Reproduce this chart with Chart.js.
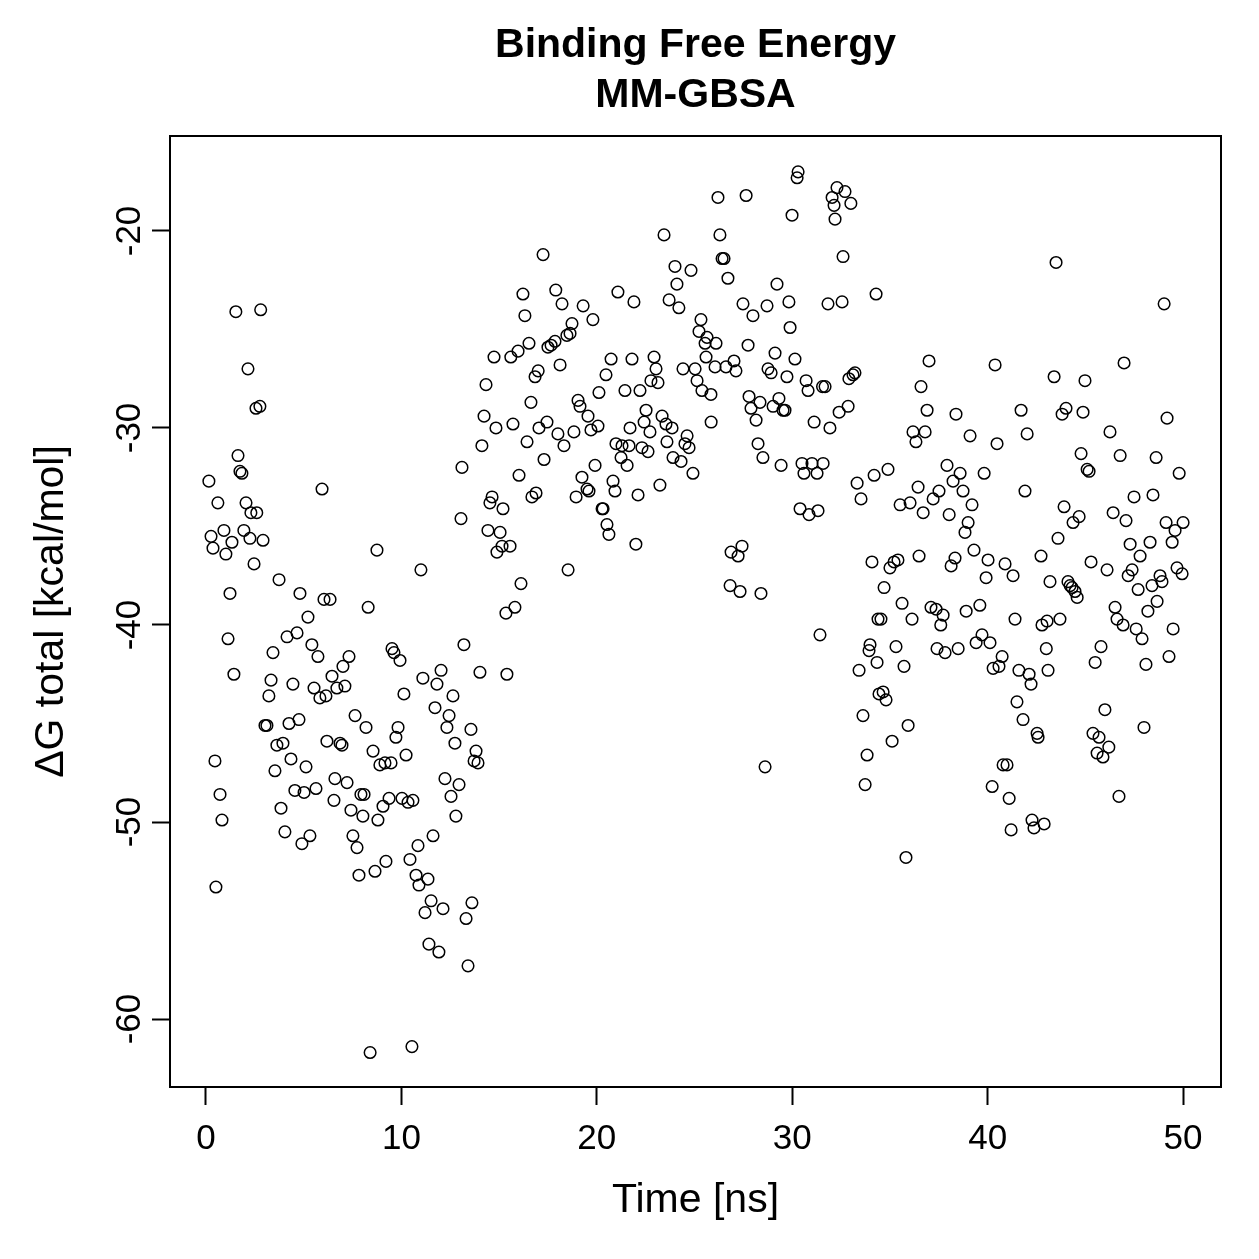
<!DOCTYPE html>
<html>
<head>
<meta charset="utf-8">
<script src="https://cdn.jsdelivr.net/npm/chart.js@4.4.1/dist/chart.umd.min.js"></script>
<style>
  html, body { margin: 0; padding: 0; background: #ffffff; }
  #wrap { width: 1259px; height: 1259px; }
</style>
</head>
<body>
<div id="wrap"><canvas id="chartEnergy" width="1259" height="1259"></canvas></div>
<script>
/* values */
const chartTitle = ['Binding Free Energy', 'MM-GBSA'];
const xTitle = 'Time [ns]';
const yTitle = '\u0394G total [kcal/mol]';
const xTicks = [0, 10, 20, 30, 40, 50];
const yTicks = [-60, -50, -40, -30, -20];

const timeNs = [
  0.15, 0.26, 0.36, 0.46, 0.51, 0.61, 0.72, 0.82, 0.92, 1.02, 1.13, 1.23, 1.33, 1.43, 1.53, 1.64, 1.74, 1.84, 1.94, 2.05,
  2.15, 2.25, 2.30, 2.46, 2.56, 2.60, 2.76, 2.80, 2.92, 3.02, 3.12, 3.22, 3.33, 3.43, 3.53, 3.63, 3.74, 3.84, 3.94, 4.04,
  4.15, 4.25, 4.35, 4.45, 4.55, 4.66, 4.76, 4.81, 4.91, 5.02, 5.12, 5.22, 5.32, 5.42, 5.53, 5.63, 5.73, 5.83, 5.94, 6.04,
  6.14, 6.19, 6.35, 6.45, 6.55, 6.60, 6.70, 6.86, 6.96, 7.01, 7.11, 7.22, 7.32, 7.42, 7.52, 7.63, 7.73, 7.83, 7.93, 8.03,
  8.09, 8.19, 8.30, 8.40, 8.55, 8.65, 8.75, 8.80, 8.90, 9.06, 9.16, 9.21, 9.37, 9.47, 9.52, 9.62, 9.72, 9.83, 9.93, 10.03,
  10.13, 10.24, 10.34, 10.44, 10.54, 10.59, 10.75, 10.85, 10.90, 11.00, 11.10, 11.21, 11.36, 11.41, 11.52, 11.62, 11.72, 11.82, 11.92, 12.03,
  12.13, 12.23, 12.33, 12.44, 12.54, 12.64, 12.74, 12.79, 12.95, 13.05, 13.10, 13.20, 13.31, 13.41, 13.56, 13.61, 13.72, 13.82, 13.92, 14.02,
  14.12, 14.23, 14.33, 14.43, 14.53, 14.64, 14.74, 14.84, 14.89, 15.05, 15.15, 15.20, 15.35, 15.40, 15.56, 15.60, 15.71, 15.81, 15.97, 16.02,
  16.12, 16.22, 16.32, 16.43, 16.53, 16.63, 16.68, 16.84, 16.89, 17.00, 17.04, 17.25, 17.30, 17.45, 17.50, 17.66, 17.86, 17.90, 18.01, 18.12,
  18.22, 18.32, 18.47, 18.53, 18.63, 18.73, 18.83, 18.94, 19.04, 19.14, 19.24, 19.30, 19.50, 19.55, 19.60, 19.70, 19.80, 19.91, 20.06, 20.11,
  20.27, 20.32, 20.47, 20.52, 20.62, 20.73, 20.83, 20.93, 20.98, 21.08, 21.24, 21.29, 21.44, 21.55, 21.65, 21.70, 21.80, 21.90, 22.00, 22.11,
  22.21, 22.31, 22.42, 22.52, 22.62, 22.72, 22.77, 22.93, 23.03, 23.13, 23.23, 23.34, 23.44, 23.54, 23.59, 23.70, 23.85, 23.90, 24.00, 24.10,
  24.20, 24.31, 24.41, 24.51, 24.62, 24.72, 24.82, 24.92, 25.03, 25.13, 25.23, 25.33, 25.38, 25.54, 25.59, 25.64, 25.84, 25.85, 26.05, 26.10,
  26.20, 26.30, 26.41, 26.51, 26.61, 26.71, 26.82, 26.87, 27.02, 27.12, 27.23, 27.33, 27.43, 27.48, 27.64, 27.74, 27.79, 27.89, 27.99, 28.15,
  28.25, 28.35, 28.40, 28.50, 28.61, 28.71, 28.76, 28.92, 29.02, 29.12, 29.22, 29.32, 29.43, 29.53, 29.63, 29.73, 29.83, 29.89, 29.99, 30.14,
  30.25, 30.30, 30.40, 30.50, 30.60, 30.71, 30.81, 30.86, 31.01, 31.12, 31.27, 31.32, 31.42, 31.55, 31.58, 31.68, 31.83, 31.93, 32.04, 32.14,
  32.19, 32.29, 32.40, 32.55, 32.60, 32.70, 32.86, 32.90, 33.00, 33.11, 33.21, 33.32, 33.42, 33.52, 33.62, 33.73, 33.83, 33.93, 33.98, 34.08,
  34.19, 34.29, 34.34, 34.39, 34.44, 34.54, 34.65, 34.70, 34.80, 34.90, 35.00, 35.11, 35.21, 35.31, 35.41, 35.52, 35.62, 35.72, 35.82, 35.93,
  36.03, 36.13, 36.18, 36.33, 36.44, 36.49, 36.59, 36.70, 36.80, 36.90, 37.00, 37.10, 37.21, 37.36, 37.41, 37.51, 37.60, 37.72, 37.82, 37.92,
  38.03, 38.13, 38.23, 38.33, 38.38, 38.49, 38.59, 38.74, 38.84, 38.90, 39.00, 39.10, 39.20, 39.30, 39.41, 39.60, 39.71, 39.82, 39.92, 40.02,
  40.12, 40.23, 40.28, 40.38, 40.48, 40.58, 40.74, 40.79, 40.89, 40.99, 41.10, 41.20, 41.30, 41.40, 41.50, 41.60, 41.71, 41.81, 41.91, 42.02,
  42.12, 42.22, 42.27, 42.37, 42.53, 42.58, 42.73, 42.78, 42.89, 43.00, 43.04, 43.09, 43.19, 43.40, 43.50, 43.60, 43.70, 43.81, 43.91, 44.01,
  44.11, 44.22, 44.32, 44.37, 44.47, 44.58, 44.68, 44.78, 44.88, 44.98, 45.09, 45.19, 45.29, 45.39, 45.50, 45.60, 45.70, 45.80, 45.90, 46.00,
  46.11, 46.20, 46.26, 46.42, 46.52, 46.62, 46.72, 46.78, 46.93, 46.98, 47.08, 47.19, 47.29, 47.39, 47.49, 47.60, 47.70, 47.80, 47.90, 48.00,
  48.10, 48.20, 48.31, 48.41, 48.46, 48.62, 48.67, 48.82, 48.92, 49.03, 49.13, 49.18, 49.28, 49.44, 49.49, 49.59, 49.69, 49.80, 49.95, 50.00
];

const deltaG = [
  -32.7, -35.5, -36.1, -46.9, -53.3, -33.8, -48.6, -49.9, -35.2, -36.4, -40.7, -38.4, -35.8, -42.5, -24.1, -31.4, -32.2, -32.3, -35.2, -33.8,
  -27.0, -35.6, -34.3, -36.9, -29.0, -34.3, -28.9, -24.0, -35.7, -45.1, -45.1, -43.6, -42.8, -41.4, -47.4, -46.1, -37.7, -49.3, -46.0, -50.5,
  -40.6, -45.0, -46.8, -43.0, -48.4, -40.4, -44.8, -38.4, -51.1, -48.5, -47.2, -39.6, -50.7, -41.0, -43.2, -48.3, -41.6, -43.7, -33.1, -38.7,
  -43.6, -45.9, -38.7, -42.6, -48.9, -47.8, -43.2, -46.0, -46.1, -42.1, -43.1, -48.0, -41.6, -49.4, -50.7, -44.6, -51.3, -52.7, -48.6, -49.7,
  -48.6, -45.2, -39.1, -61.7, -46.4, -52.5, -36.2, -49.9, -47.1, -49.2, -47.0, -52.0, -48.8, -47.0, -41.2, -41.4, -45.7, -45.2, -41.8, -48.8,
  -43.5, -46.6, -49.0, -51.9, -61.4, -48.9, -52.7, -51.2, -53.2, -37.2, -42.7, -54.6, -52.9, -56.2, -54.0, -50.7, -44.2, -43.0, -56.6, -42.3,
  -54.4, -47.8, -45.2, -44.6, -48.7, -43.6, -46.0, -49.7, -48.1, -34.6, -32.0, -41.0, -54.9, -57.3, -45.3, -54.1, -46.9, -46.4, -47.0, -42.4,
  -30.9, -29.4, -27.8, -35.2, -33.8, -33.5, -26.4, -30.0, -36.3, -35.3, -36.0, -34.1, -39.4, -42.5, -36.0, -26.4, -29.8, -39.1, -26.1, -32.4,
  -37.9, -23.2, -24.3, -30.7, -25.7, -28.7, -33.5, -27.4, -33.3, -27.1, -30.0, -21.2, -31.6, -29.7, -25.9, -25.8, -25.6, -23.0, -30.3, -26.8,
  -23.7, -30.9, -25.3, -37.2, -25.2, -24.7, -30.2, -33.5, -28.6, -28.9, -32.5, -23.8, -33.1, -29.4, -33.2, -30.1, -24.5, -31.9, -29.9, -28.2,
  -34.1, -34.1, -27.3, -34.9, -35.4, -26.5, -32.7, -33.2, -30.8, -23.1, -31.5, -30.9, -28.1, -31.9, -30.9, -30.0, -26.5, -23.6, -35.9, -33.4,
  -28.1, -31.0, -29.7, -29.1, -31.2, -30.2, -27.6, -26.4, -27.0, -27.7, -32.9, -29.4, -20.2, -29.8, -30.7, -23.5, -30.0, -31.5, -21.8, -22.7,
  -23.9, -31.7, -27.0, -30.8, -30.4, -31.0, -22.0, -32.3, -27.0, -27.6, -25.1, -24.5, -28.1, -25.7, -26.4, -25.4, -28.3, -29.7, -26.9, -25.7,
  -18.3, -20.2, -21.4, -21.4, -26.9, -22.4, -38.0, -36.3, -26.6, -27.1, -36.5, -38.3, -36.0, -23.7, -18.2, -25.8, -28.4, -29.0, -24.3, -29.6,
  -30.8, -28.7, -38.4, -31.5, -47.2, -23.8, -27.0, -27.2, -28.9, -26.2, -22.7, -28.5, -31.9, -29.1, -29.1, -27.4, -23.6, -24.9, -19.2, -26.5,
  -17.3, -17.0, -34.1, -31.8, -32.3, -27.6, -28.1, -34.4, -31.8, -29.7, -32.3, -34.2, -40.5, -27.9, -31.8, -27.9, -23.7, -30.0, -18.3, -18.7,
  -19.4, -17.8, -29.2, -23.6, -21.3, -18.0, -28.9, -27.5, -18.6, -27.3, -27.2, -32.8, -42.3, -33.6, -44.6, -48.1, -46.6, -41.3, -41.0, -36.8,
  -32.4, -23.2, -41.9, -39.7, -43.5, -39.7, -43.4, -38.1, -43.8, -32.1, -37.1, -45.9, -36.8, -41.1, -36.7, -33.9, -38.9, -42.1, -51.8, -45.1,
  -33.8, -39.7, -30.2, -30.7, -33.0, -36.5, -27.9, -34.3, -30.2, -29.1, -26.6, -39.1, -33.6, -39.2, -41.2, -33.2, -40.0, -39.5, -41.4, -31.9,
  -34.4, -37.0, -32.7, -36.6, -29.3, -41.2, -32.3, -33.2, -35.3, -39.3, -34.8, -30.4, -33.9, -36.2, -40.9, -39.0, -40.5, -32.3, -37.6, -36.7,
  -40.9, -48.2, -42.2, -26.8, -30.8, -42.1, -41.6, -47.1, -36.9, -47.1, -48.8, -50.4, -37.5, -39.7, -43.9, -42.3, -29.1, -44.8, -33.2, -30.3,
  -42.5, -43.0, -49.9, -50.3, -45.5, -45.7, -36.5, -40.0, -50.1, -41.2, -39.8, -42.3, -37.8, -27.4, -21.6, -35.6, -39.7, -29.3, -34.0, -29.0,
  -37.8, -38.0, -38.1, -34.8, -38.3, -38.6, -34.5, -31.3, -29.2, -27.6, -32.1, -32.2, -36.8, -45.5, -41.9, -46.5, -45.7, -41.1, -46.7, -44.3,
  -37.2, -46.2, -30.2, -34.3, -39.1, -39.7, -48.7, -31.4, -40.0, -26.7, -34.7, -37.5, -35.9, -37.2, -33.5, -40.2, -38.2, -36.5, -40.7, -45.2,
  -42.0, -39.3, -35.8, -38.0, -33.4, -31.5, -38.8, -37.5, -37.8, -23.7, -34.8, -29.5, -41.6, -35.8, -40.2, -35.2, -37.1, -32.3, -37.4, -34.8
];

const fontFamily = '"Liberation Sans", Arial, Helvetica, sans-serif';

function getPoints(xs, ys) {
  let points = [];
  for (let i = 0; i < xs.length; i++) {
    points.push({ x: xs[i], y: ys[i] });
  }
  return points;
}

function fixedTicks(values) {
  return function (scale) {
    scale.ticks = values.map(v => ({ value: v }));
  };
}

/* box round the plot area, title centred over it, rotated y tick labels as R draws them */
const boxPlugin = {
  id: 'boxPlugin',
  afterDraw(chart) {
    const ctx = chart.ctx;
    const area = chart.chartArea;
    const yScale = chart.scales.y;
    ctx.save();
    ctx.strokeStyle = '#000000';
    ctx.lineWidth = 2;
    ctx.strokeRect(area.left, area.top, area.right - area.left, area.bottom - area.top);
    ctx.fillStyle = '#000000';
    ctx.textAlign = 'center';
    ctx.textBaseline = 'middle';

    ctx.font = 'bold 41px ' + fontFamily;
    const midX = (area.left + area.right) / 2;
    chartTitle.forEach((line, i) => ctx.fillText(line, midX, 46 + i * 50));

    ctx.font = '35px ' + fontFamily;
    for (let tick of yScale.ticks) {
      ctx.save();
      ctx.translate(130, yScale.getPixelForValue(tick.value));
      ctx.rotate(-Math.PI / 2);
      ctx.fillText(String(tick.value), 0, 0);
      ctx.restore();
    }
    ctx.restore();
  }
};

const config = {
  type: 'scatter',
  data: {
    datasets: [{
      label: 'MM-GBSA',
      data: getPoints(timeNs, deltaG),
      pointStyle: 'circle',
      pointRadius: 5.8,
      pointHoverRadius: 5.8,
      borderWidth: 1.5,
      borderColor: '#000000',
      backgroundColor: 'rgba(0,0,0,0)'
    }]
  },
  options: {
    responsive: false,
    animation: false,
    events: [],
    layout: { padding: { left: 0, right: 38, top: 136, bottom: 0 } },
    plugins: {
      legend: { display: false },
      tooltip: { enabled: false },
      title: { display: false }
    },
    scales: {
      x: {
        type: 'linear',
        min: -1.84,
        max: 51.94,
        afterBuildTicks: fixedTicks(xTicks),
        afterFit(scale) { scale.height = 172; },
        border: { display: false },
        grid: {
          drawOnChartArea: false,
          drawTicks: true,
          tickLength: 18,
          tickWidth: 2,
          tickColor: '#000000'
        },
        ticks: {
          color: '#000000',
          font: { family: fontFamily, size: 35 },
          padding: 13,
          maxRotation: 0,
          minRotation: 0
        },
        title: {
          display: true,
          text: xTitle,
          color: '#000000',
          font: { family: fontFamily, size: 41 },
          padding: { top: 0, bottom: 34 }
        }
      },
      y: {
        type: 'linear',
        min: -63.45,
        max: -15.18,
        afterBuildTicks: fixedTicks(yTicks),
        afterFit(scale) { scale.width = 170; },
        border: { display: false },
        grid: {
          drawOnChartArea: false,
          drawTicks: true,
          tickLength: 18,
          tickWidth: 2,
          tickColor: '#000000'
        },
        ticks: { display: false },
        title: {
          display: true,
          text: yTitle,
          color: '#000000',
          font: { family: fontFamily, size: 41 },
          padding: { top: 27, bottom: 0 }
        }
      }
    }
  },
  plugins: [boxPlugin]
};

const ctx = document.getElementById('chartEnergy').getContext('2d');
const chartEnergy = new Chart(ctx, config);
</script>
</body>
</html>
